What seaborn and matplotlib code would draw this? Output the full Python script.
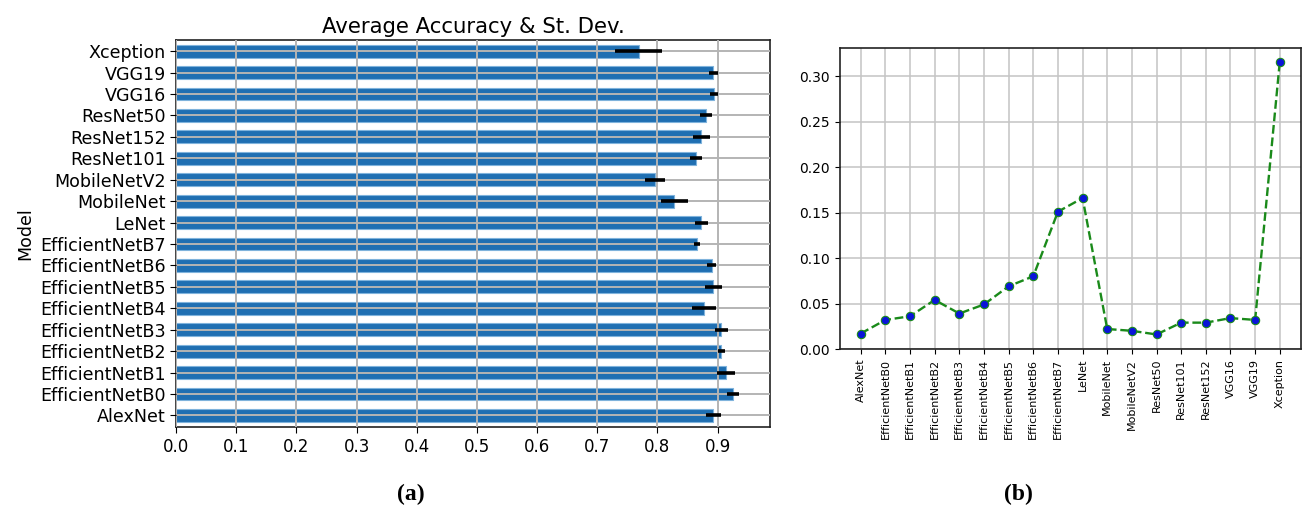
import matplotlib
matplotlib.use("Agg")
import matplotlib.pyplot as plt
import seaborn as sns
import pandas as pd

# Models, mean accuracy and spread across runs
models = ["AlexNet", "EfficientNetB0", "EfficientNetB1", "EfficientNetB2",
          "EfficientNetB3", "EfficientNetB4", "EfficientNetB5", "EfficientNetB6",
          "EfficientNetB7", "LeNet", "MobileNet", "MobileNetV2", "ResNet50",
          "ResNet101", "ResNet152", "VGG16", "VGG19", "Xception"]
acc_mean = [0.893, 0.926, 0.914, 0.906, 0.906, 0.878, 0.893, 0.890, 0.866,
            0.873, 0.828, 0.796, 0.881, 0.864, 0.873, 0.894, 0.893, 0.769]
acc_err = [0.013, 0.010, 0.015, 0.006, 0.011, 0.020, 0.014, 0.008, 0.005,
           0.011, 0.022, 0.017, 0.010, 0.010, 0.014, 0.006, 0.008, 0.039]
# Standard deviation per model (panel b)
std_dev = [0.017, 0.032, 0.036, 0.054, 0.039, 0.049, 0.069, 0.080, 0.151,
           0.166, 0.022, 0.020, 0.016, 0.029, 0.029, 0.034, 0.032, 0.316]
# Bar order in panel (a), top to bottom (string-sorted, descending)
bar_order = sorted(models, reverse=True)
x_ticks_a = [0.0, 0.1, 0.2, 0.3, 0.4, 0.5, 0.6, 0.7, 0.8, 0.9]
y_ticks_b = [0.00, 0.05, 0.10, 0.15, 0.20, 0.25, 0.30]

df = pd.DataFrame({"Model": models, "Accuracy": acc_mean,
                   "Err": acc_err, "Std": std_dev})

sns.set_style("ticks")
plt.rcParams["font.family"] = ["DejaVu Sans"]
plt.rcParams.update({"text.color": "black", "axes.labelcolor": "black",
                     "xtick.color": "black", "ytick.color": "black"})

fig = plt.figure(figsize=(13.04, 5.11), dpi=100)

# ---- (a) horizontal bars with error bars ----
ax1 = fig.add_axes([0.135, 0.164, 0.4555, 0.757])
sns.barplot(data=df, y="Model", x="Accuracy", order=bar_order, orient="h",
            color="#1f6fb2", saturation=1, errorbar=None, width=0.6,
            edgecolor="#7fb3dc", linewidth=0.8, ax=ax1)
d_ord = df.set_index("Model").loc[bar_order]
ax1.errorbar(d_ord["Accuracy"].values, range(len(bar_order)),
             xerr=d_ord["Err"].values, fmt="none", ecolor="black",
             elinewidth=2.6, capsize=0, zorder=5)
ax1.set_xlim(0, 0.987)
ax1.set_ylim(len(bar_order) - 0.45, -0.5)
ax1.set_xticks(x_ticks_a)
ax1.set_xticklabels([f"{v:.1f}" for v in x_ticks_a])
ax1.set_axisbelow(False)
ax1.grid(True, color="#b4b4b4", linewidth=1.4, zorder=3)
ax1.set_title("Average Accuracy & St. Dev.", fontsize=15.3, pad=5)
ax1.set_xlabel("")
ax1.set_ylabel("Model", fontsize=12.5)
ax1.tick_params(axis="y", labelsize=12.6, length=4, color="black")
ax1.tick_params(axis="x", labelsize=12, length=4, color="black")
for s in ax1.spines.values():
    s.set_visible(True)
    s.set_color("#222222")
    s.set_linewidth(1.2)

# ---- (b) standard deviation line ----
ax2 = fig.add_axes([0.644, 0.317, 0.3535, 0.589])
sns.lineplot(data=df, x="Model", y="Std", color="#1a8a1a", linestyle="--",
             linewidth=1.7, marker="o", markersize=6,
             markerfacecolor="#0a14d8", markeredgecolor="#1a8a1a",
             markeredgewidth=0.8, ax=ax2)
ax2.set_xlim(-0.85, len(models) - 1 + 0.85)
ax2.set_ylim(0, 0.331)
ax2.set_yticks(y_ticks_b)
ax2.set_yticklabels([f"{v:.2f}" for v in y_ticks_b])
ax2.set_xticks(range(len(models)))
ax2.set_xticklabels(models, rotation=90)
ax2.grid(True, color="#c4c4c4", linewidth=1.1)
ax2.set_xlabel("")
ax2.set_ylabel("")
ax2.tick_params(axis="y", labelsize=10, length=3.5, color="black")
ax2.tick_params(axis="x", labelsize=8, length=3.5, color="black")
for s in ax2.spines.values():
    s.set_visible(True)
    s.set_color("#222222")
    s.set_linewidth(1.2)

# ---- panel captions ----
fig.text(0.315, 0.022, "(a)", fontsize=17, fontweight="bold",
         family="Liberation Serif", ha="center")
fig.text(0.781, 0.022, "(b)", fontsize=17, fontweight="bold",
         family="Liberation Serif", ha="center")

fig.savefig("out.png", dpi=100)
